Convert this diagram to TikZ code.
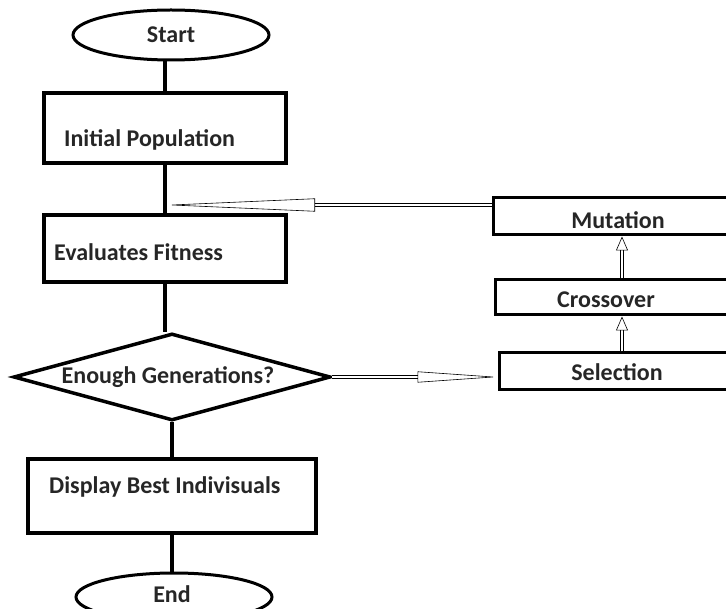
\documentclass[tikz,border=0pt]{standalone}
\usepackage{fontspec}
\setmainfont{Carlito}
\usetikzlibrary{shapes.geometric,arrows.meta}

\tikzset{
	term/.style={ellipse, draw, line width=3pt, inner sep=0pt},
	block/.style={rectangle, draw, line width=3.5pt, inner sep=0pt},
	test/.style={diamond, draw, line width=3.5pt, inner sep=0pt},
	op/.style={rectangle, draw, line width=3pt, inner sep=0pt},
	caption/.style={font=\fontsize{24}{27}\selectfont\bfseries, text=black!85, inner sep=0pt},
	link/.style={line width=3.5pt},
	feed/.style={double, line width=0.6pt, double distance=2.4pt}
}

\begin{document}
\begin{tikzpicture}[x=1pt, y=-1pt]
		%%%%% START %%%%%
		\useasboundingbox (0, 0) rectangle (726, 609);
		\clip (0, 0) rectangle (726, 609);
		
		% main column
		\node[term, caption, minimum width=196, minimum height=50] (start) at (171, 35) {Start};
		\node[block, minimum width=242, minimum height=70] (init) at (165, 128) {};
		\node[caption, anchor=west] (initText) at (64, 140) {Initial Population};
		\node[block, minimum width=242, minimum height=67] (eval) at (165, 248.5) {};
		\node[caption, anchor=west] (evalText) at (54, 252) {Evaluates Fitness};
		\node[test, minimum width=317, minimum height=87] (gen) at (172, 377) {};
		\node[caption] (genText) at (168, 377) {Enough Generations?};
		\node[block, minimum width=288, minimum height=74] (disp) at (172, 496) {};
		\node[caption, anchor=west] (dispText) at (49, 487) {Display Best Indivisuals};
		\node[term, minimum width=196, minimum height=48] (end) at (174, 597) {};
		\node[caption, anchor=base] (endText) at (172, 602) {End};
		
		% loop column
		\node[op, minimum width=258, minimum height=37] (mut) at (622, 216.5) {};
		\node[caption] (mutText) at (618, 220) {Mutation};
		\node[op, minimum width=254, minimum height=35] (cross) at (622, 297.5) {};
		\node[caption] (crossText) at (606, 300) {Crossover};
		\node[op, minimum width=246, minimum height=37] (sel) at (622, 371.5) {};
		\node[caption] (selText) at (617, 372) {Selection};
		
		\draw[link] (start.south -| init.north) -- (init.north);
		\draw[link] (init) -- (eval);
		\draw[link] (eval.south) -- (eval.south |- gen.north);
		\draw[link] (gen) -- (disp);
		\draw[link] (disp.south) -- (disp.south |- end.north);
		
		\coordinate (join) at (165, 205);
		\draw[feed, -{Triangle[open, length=150, width=13]}] (mut.west |- join) -- (join);
		\draw[feed, -{Triangle[open, length=80, width=11]}] (gen.east) -- (gen.east -| sel.west);
		\draw[feed, -{Triangle[open, length=14, width=12]}] (sel) -- (cross);
		\draw[feed, -{Triangle[open, length=14, width=12]}] (cross) -- (mut);
		
		%%%%% END %%%%%
	\end{tikzpicture}
\end{document}
